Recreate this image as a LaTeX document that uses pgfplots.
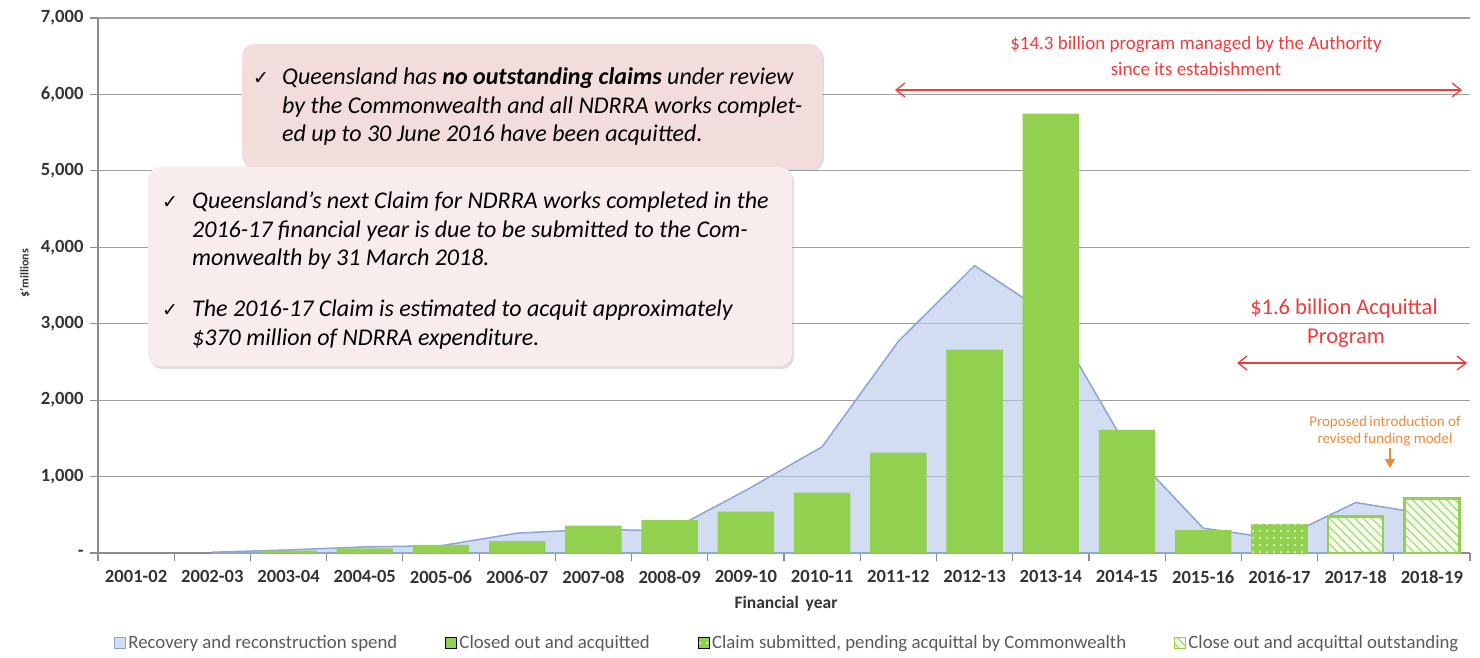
\documentclass[border=0pt]{standalone}
\usepackage{fontspec}
\setmainfont{Carlito}
\newfontfamily\dejavu{DejaVu Sans}
\usepackage{pgfplots}
\pgfplotsset{compat=1.18}
\usetikzlibrary{patterns.meta, shadows, arrows.meta}

\definecolor{bargreen}{HTML}{92D050}
\definecolor{arealine}{HTML}{8AA5D6}
\definecolor{areafill}{HTML}{B4C7E7}
\definecolor{gridgray}{HTML}{A0A0A0}
\definecolor{axisgray}{HTML}{8C8C8C}
\definecolor{txtgray}{HTML}{333333}
\definecolor{leggray}{HTML}{595959}
\definecolor{redann}{HTML}{F03C3C}
\definecolor{orangeann}{HTML}{EE8A3C}
\definecolor{boxone}{HTML}{F2DCDC}
\definecolor{boxtwo}{HTML}{F8ECEC}
\definecolor{hatchbg}{HTML}{F4FAEE}

\pgfplotsset{sqlegend/.style={legend image code/.code={\draw[##1, line width=1.2pt] (0pt,-5.5pt) rectangle (11pt,5.5pt);}}}

\begin{document}
\begin{tikzpicture}
\useasboundingbox (0,0) rectangle (1480pt,657pt);
\begin{axis}[
  at={(98pt,104pt)}, anchor=south west,
  scale only axis, width=1372pt, height=535pt,
  xmin=-0.5, xmax=17.5, ymin=0, ymax=7000,
  axis lines=left,
  axis line style={-, draw=axisgray, line width=1.2pt},
  ytick={0,1000,...,7000},
  yticklabels={{-\hspace{12pt}},{1,000},{2,000},{3,000},{4,000},{5,000},{6,000},{7,000}},
  yticklabel style={xshift=-3pt},
  xtick={-0.5,0.5,...,17.5},
  xticklabels={2001-02,2002-03,2003-04,2004-05,2005-06,2006-07,2007-08,2008-09,2009-10,2010-11,2011-12,2012-13,2013-14,2014-15,2015-16,2016-17,2017-18,2018-19,{}},
  xticklabel style={xshift=38.11pt, yshift=-6pt},
  tick align=outside,
  major tick length=8pt,
  tick style={draw=axisgray, line width=1.2pt},
  ymajorgrids, grid style={draw=gridgray, line width=1.2pt},
  tick label style={font=\bfseries\fontsize{18.6}{22}\selectfont, text=txtgray},
  legend columns=4,
  legend style={font=\fontsize{18.8}{21}\selectfont, text=leggray, draw=none, fill=none,
    at={(0.0095,-0.168)}, anchor=west,
    /tikz/every even column/.append style={column sep=46pt}},
  clip=false,
]
\addplot[draw=arealine, line width=1.5pt, fill=areafill, fill opacity=0.6, sqlegend] coordinates {
(1,10) (2,40) (3,80) (4,95) (5,260) (6,310) (7,290) (8,820) (9,1390) (10,2770) (11,3760) (12,3100) (13,1380) (14,325) (15,180) (16,660) (17,500)
} \closedcycle;
\addlegendentry{Recovery and reconstruction spend}

\addplot[ybar, bar width=0.74, bar shift=0pt, fill=bargreen, draw=none, sqlegend] coordinates {
(2,30) (3,60) (4,105) (5,157) (6,358) (7,430) (8,540) (9,790) (10,1313) (11,2660) (12,5750) (13,1610) (14,300)
};
\addlegendentry{Closed out and acquitted}

\addplot[ybar, bar width=0.74, bar shift=0pt, fill=bargreen, draw=none,
  postaction={pattern={Dots[distance=7pt, radius=1.1pt]}, pattern color=white!80!bargreen}, sqlegend] coordinates {
(15,380)
};
\addlegendentry{Claim submitted, pending acquittal by Commonwealth}

\addplot[ybar, bar width=0.72, bar shift=0pt, fill=hatchbg, draw=bargreen, line width=2.5pt,
  postaction={pattern={Lines[angle=-45, distance=6pt, line width=1.2pt]}, pattern color=bargreen!80}, sqlegend] coordinates {
(16,475) (17,716)
};
\addlegendentry{Close out and acquittal outstanding}
\end{axis}

% axis titles
\node[font=\bfseries\fontsize{17.5}{20}\selectfont, text=txtgray] at (786pt,53pt) {Financial\, year};
\node[font=\bfseries\fontsize{12}{14}\selectfont, text=txtgray, rotate=90] at (25pt,384pt) {\$'millions};

% box 1
\fill[boxone, rounded corners=12pt, drop shadow={shadow xshift=2pt, shadow yshift=-3pt, opacity=0.25}] (242pt,489pt) rectangle (822pt,613pt);
\begin{scope}[every node/.style={anchor=base west, inner sep=0pt, font=\itshape\fontsize{24}{28}\selectfont, text=black}]
\node[font=\dejavu\fontsize{19}{20}\selectfont] at (253pt,572pt) {✓};
\node at (282pt,572pt) {Queensland has \textbf{no outstanding claims} under review};
\node at (282pt,543pt) {by the Commonwealth and all NDRRA works complet-};
\node at (282pt,515pt) {ed up to 30 June 2016 have been acquitted.};
\end{scope}

% box 2
\fill[boxtwo, rounded corners=12pt, drop shadow={shadow xshift=2pt, shadow yshift=-3pt, opacity=0.25}] (148pt,291pt) rectangle (792pt,490pt);
\begin{scope}[every node/.style={anchor=base west, inner sep=0pt, font=\itshape\fontsize{24}{28}\selectfont, text=black}]
\node[font=\dejavu\fontsize{19}{20}\selectfont] at (162pt,448pt) {✓};
\node at (192pt,448pt) {Queensland’s next Claim for NDRRA works completed in the};
\node at (192pt,419.5pt) {2016-17 financial year is due to be submitted to the Com-};
\node at (192pt,391pt) {monwealth by 31 March 2018.};
\node[font=\dejavu\fontsize{19}{20}\selectfont] at (162pt,341pt) {✓};
\node at (192pt,341pt) {The 2016-17 Claim is estimated to acquit approximately};
\node at (192pt,312pt) {\$370 million of NDRRA expenditure.};
\end{scope}

% red annotations
\begin{scope}[every node/.style={anchor=base, inner sep=0pt, text=redann}]
\node[font=\fontsize{19}{22}\selectfont] at (1196pt,607pt) {\$14.3 billion program managed by the Authority};
\node[font=\fontsize{19}{22}\selectfont] at (1196pt,581pt) {since its estabishment};
\node[font=\fontsize{22.5}{24}\selectfont] at (1344pt,343pt) {\$1.6 billion Acquittal};
\node[font=\fontsize{22.5}{24}\selectfont] at (1346pt,314pt) {Program};
\end{scope}
\draw[redann, line width=1.3pt, {Straight Barb[length=9pt,width=14pt]}-{Straight Barb[length=9pt,width=14pt]}] (895pt,567pt) -- (1462pt,567pt);
\draw[redann, line width=1.3pt, {Straight Barb[length=9pt,width=14pt]}-{Straight Barb[length=9pt,width=14pt]}] (1237pt,294pt) -- (1467pt,294pt);

% orange annotation
\begin{scope}[every node/.style={anchor=base, inner sep=0pt, font=\fontsize{15}{16}\selectfont, text=orangeann}]
\node at (1385pt,231pt) {Proposed\,introduction of};
\node at (1385pt,214pt) {revised\,funding model};
\end{scope}
\draw[orangeann, line width=1.5pt, -{Triangle[length=9pt,width=10pt]}] (1390pt,209pt) -- (1390pt,189pt);
\end{tikzpicture}
\end{document}
